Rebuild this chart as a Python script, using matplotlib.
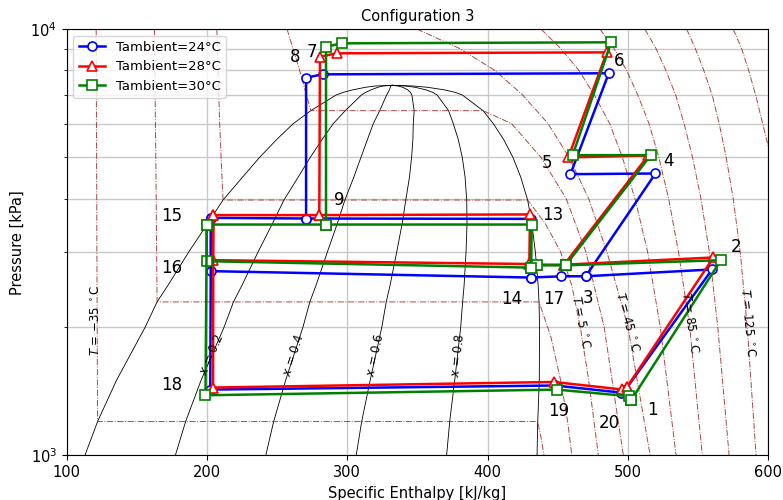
import numpy as np
import matplotlib
matplotlib.use("Agg")
import matplotlib.pyplot as plt
from matplotlib.ticker import NullFormatter

# R744 saturation dome: pressure [kPa], liquid / vapour enthalpy [kJ/kg]
sat_p = [1000, 1200, 1500, 2000, 2290, 2500, 3000, 3500, 3970, 4500, 5000,
         5500, 6000, 6434, 7000, 7100, 7200, 7300, 7350, 7377]
sat_hl = [113.0, 122.0, 135.5, 156.0, 164.4, 172.0, 187.0, 200.5, 211.4, 225.5, 237.5,
          249.5, 261.5, 274.0, 292.0, 297.0, 304.0, 313.0, 320.0, 332.0]
sat_hv = [435.2, 435.7, 436.8, 437.0, 436.6, 436.0, 434.0, 431.5, 428.5, 423.5, 418.0,
          411.5, 404.0, 396.7, 382.0, 377.0, 369.0, 357.0, 347.0, 332.0]
qualities = [0.2, 0.4, 0.6, 0.8]

# isotherms (h [kJ/kg], p [kPa])
t_m35_h = [121.0, 121.5, 122.0, 435.7, 438.0, 440.2]
t_m35_p = [10000, 3000, 1200, 1200, 1100, 1000]
t_m15_h = [162.5, 163.5, 164.4, 436.6, 445.0, 452.0, 457.0, 460.0]
t_m15_p = [10000, 5000, 2290, 2290, 1900, 1500, 1200, 1000]
t_5_h = [207.0, 209.0, 211.4, 428.5, 441.0, 452.0, 460.0, 466.0, 472.0, 478.9]
t_5_p = [10000, 6000, 3970, 3970, 3500, 3000, 2500, 2000, 1500, 1000]
t_25_h = [257.0, 266.0, 274.0, 396.7, 417.0, 438.0, 456.0, 470.0, 483.0, 496.7]
t_25_p = [10000, 8000, 6434, 6434, 6000, 5000, 4000, 3000, 2000, 1000]
t_45_h = [349.5, 380.0, 405.0, 425.0, 443.0, 458.0, 472.0, 485.0, 500.0, 515.8]
t_45_p = [10000, 9000, 8000, 7000, 6000, 5000, 4000, 3000, 2000, 1000]
t_65_h = [438.0, 452.0, 465.0, 476.0, 487.0, 496.0, 505.0, 514.0, 523.0, 534.3]
t_65_p = [10000, 9000, 8000, 7000, 6000, 5000, 4000, 3000, 2000, 1000]
t_85_h = [480.0, 490.0, 499.0, 507.0, 515.0, 522.0, 529.0, 536.0, 544.0, 553.0]
t_85_p = [10000, 9000, 8000, 7000, 6000, 5000, 4000, 3000, 2000, 1000]
t_105_h = [512.0, 520.0, 527.0, 534.0, 540.0, 546.0, 552.0, 558.0, 564.0, 572.1]
t_105_p = [10000, 9000, 8000, 7000, 6000, 5000, 4000, 3000, 2000, 1000]
t_125_h = [541.8, 548.0, 554.0, 560.0, 565.0, 570.0, 575.0, 580.0, 585.0, 591.3]
t_125_p = [10000, 9000, 8000, 7000, 6000, 5000, 4000, 3000, 2000, 1000]
t_145_h = [575.0, 581.0, 586.0, 591.0, 596.0, 600.0]
t_145_p = [10000, 9000, 8000, 7000, 6000, 5300]

# cycle state points for the three ambient temperatures
states = [1, 2, 3, 4, 5, 6, 7, 8, 9, 13, 14, 15, 16, 17, 18, 19, 20]
h_24 = [497.9, 560.0, 469.9, 519.6, 459.0, 486.3, 282.5, 270.6, 270.6, 430.7,
        430.7, 202.8, 202.8, 452.5, 202.3, 448.0, 495.1]
p_24 = [1421, 2729, 2630, 4582, 4565, 7873, 7828, 7688, 3593, 3586,
        2612, 3606, 2704, 2630, 1426, 1458, 1403]
h_28 = [499.2, 560.9, 454.5, 514.5, 457.5, 484.9, 292.4, 280.5, 280.0, 430.2,
        429.7, 204.5, 204.0, 435.0, 204.3, 447.0, 495.8]
p_28 = [1444, 2911, 2800, 5050, 4997, 8815, 8769, 8609, 3660, 3673,
        2810, 3660, 2869, 2800, 1442, 1486, 1427]
h_30 = [502.2, 566.2, 455.5, 516.3, 460.6, 488.0, 296.0, 284.8, 284.8, 431.4,
        431.0, 199.8, 199.8, 435.0, 198.9, 449.3, 500.8]
p_30 = [1346, 2869, 2790, 5059, 5059, 9307, 9255, 9089, 3478, 3478,
        2756, 3478, 2853, 2790, 1383, 1426, 1376]

# how the states are joined
paths = [[1, 2, 3, 4, 5, 6, 7, 8, 9, 13, 14, 17, 3],
         [9, 15, 16, 14],
         [15, 18, 19, 20, 1]]

# state number label positions (h, p)
label_h = [517.2, 577.1, 471.6, 528.7, 442.4, 493.6, 274.4, 262.8, 294.1, 446.6,
           417.4, 175.1, 175.1, 447.3, 175.1, 450.9, 486.5]
label_p = [1275, 3078, 2336, 4898, 4846, 8411, 8831, 8597, 3967, 3660,
           2324, 3639, 2748, 2324, 1460, 1268, 1189]

fig = plt.figure(figsize=(7.83, 5.0), dpi=100)
ax = fig.add_axes([0.0852, 0.0894, 0.8960, 0.8526])
ax.set_yscale('log')
ax.set_xlim(100, 600)
ax.set_ylim(1000, 10000)
ax.set_axisbelow(True)
ax.grid(True, which='both', color='#c8c8c8', lw=1.0)
ax.yaxis.set_minor_formatter(NullFormatter())

iso_color = (0.6, 0.1, 0.1, 0.8)


def label_on_line(hs, ps, p_at, text):
    # place a label on an isoline, rotated along it
    hs = np.asarray(hs, float)
    lp = np.log10(np.asarray(ps, float))
    order = np.argsort(lp)
    h0 = np.interp(np.log10(p_at), lp[order], hs[order])
    h_hi = np.interp(np.log10(p_at * 1.03), lp[order], hs[order])
    h_lo = np.interp(np.log10(p_at * 0.97), lp[order], hs[order])
    a = ax.transData.transform((h_lo, p_at * 0.97))
    b = ax.transData.transform((h_hi, p_at * 1.03))
    ang = np.degrees(np.arctan2(b[1] - a[1], b[0] - a[0]))
    if ang > 90:
        ang -= 180
    ax.text(h0, p_at, text, rotation=ang, ha='center', va='center',
            fontsize=8.5, rotation_mode='anchor')


# saturation dome and quality lines
ax.plot(sat_hl, sat_p, color='black', lw=0.6)
ax.plot(sat_hv, sat_p, color='black', lw=0.6)
hl = np.array(sat_hl)
hv = np.array(sat_hv)
for q in qualities:
    hq = hl + q * (hv - hl)
    ax.plot(hq, sat_p, color='black', lw=0.6)
    label_on_line(hq, sat_p, 1717, f"$x$ = {q:.1f}")

isotherms = [(-35, t_m35_h, t_m35_p), (-15, t_m15_h, t_m15_p), (5, t_5_h, t_5_p),
             (25, t_25_h, t_25_p), (45, t_45_h, t_45_p), (65, t_65_h, t_65_p),
             (85, t_85_h, t_85_p), (105, t_105_h, t_105_p), (125, t_125_h, t_125_p),
             (145, t_145_h, t_145_p)]
for t, hs, ps in isotherms:
    ax.plot(hs, ps, color=iso_color, lw=0.7, ls='-.')
    if t in (-35, 5, 45, 85, 125):
        if t < 0:
            ax.text(hs[0] + 0.5, 2073, f"$T$ = \u2212{abs(t)} $^\\circ$C", rotation=90,
                    ha='center', va='center', fontsize=8.5)
        else:
            label_on_line(hs, ps, 2050, f"$T$ = {t} $^\\circ$C")

# cycles
configs = [(h_24, p_24, 'blue', 'o', 'Tambient=24°C'),
           (h_28, p_28, 'red', '^', 'Tambient=28°C'),
           (h_30, p_30, 'green', 's', 'Tambient=30°C')]
for hs, ps, col, mk, name in configs:
    for i, path in enumerate(paths):
        idx = [states.index(s) for s in path]
        ax.plot([hs[k] for k in idx], [ps[k] for k in idx], color=col, lw=1.8,
                marker=mk, ms=6.5, mfc='white', mew=1.2,
                label=name if i == 0 else None)

for s, lh, lp in zip(states, label_h, label_p):
    ax.text(lh, lp, str(s), fontsize=12, ha='center', va='center')

ax.set_title('Configuration 3', fontsize=10.5)
ax.set_xlabel('Specific Enthalpy [kJ/kg]', fontsize=10.5)
ax.set_ylabel('Pressure [kPa]', fontsize=10.5)
ax.tick_params(labelsize=10.5)
ax.legend(loc='upper left', fontsize=9.5)

fig.savefig('out.png', dpi=100)
